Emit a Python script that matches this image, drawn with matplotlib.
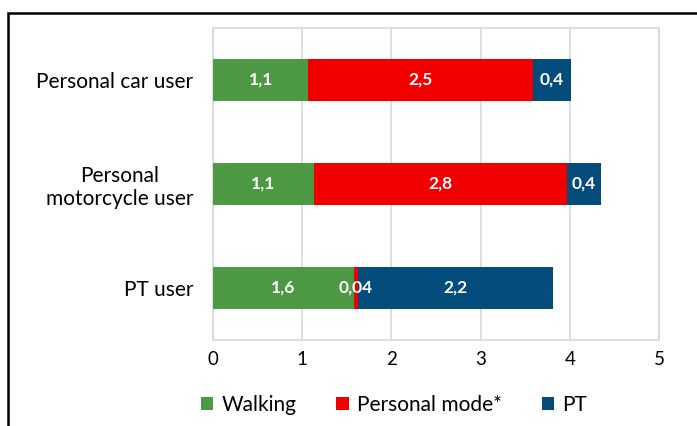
import matplotlib
matplotlib.use("Agg")
import matplotlib.pyplot as plt
from matplotlib.patches import Rectangle
import numpy as np

categories = ["Personal car user", "Personal\nmotorcycle user", "PT user"]
series_names = ["Walking", "Personal mode*", "PT"]
walking = [1.07, 1.13, 1.58]
personal = [2.52, 2.84, 0.04]
pt = [0.42, 0.38, 2.19]
labels_walking = ["1,1", "1,1", "1,6"]
labels_personal = ["2,5", "2,8", "0,04"]
labels_pt = ["0,4", "0,4", "2,2"]
colors = ["#4C9843", "#F20000", "#034C7C"]
xticks = [0, 1, 2, 3, 4, 5]

plt.rcParams['font.family'] = ['Lato', 'DejaVu Sans']

fig = plt.figure(figsize=(6.97, 4.26), dpi=100)
ax = fig.add_axes([213/697, 1 - 340/426, (659-213)/697, (340-28)/426])

y = np.arange(len(categories))[::-1].astype(float)
left = np.zeros(len(categories))
all_vals = [walking, personal, pt]
all_labels = [labels_walking, labels_personal, labels_pt]
for vals, labs, col, name in zip(all_vals, all_labels, colors, series_names):
    bars = ax.barh(y, vals, left=left, height=0.405, color=col, label=name, zorder=3)
    for b, lab in zip(bars, labs):
        cx = b.get_x() + b.get_width() / 2
        cy = b.get_y() + b.get_height() / 2
        ax.text(cx, cy, lab, ha='center', va='center', color='white',
                fontsize=12.5, fontweight='bold', zorder=4)
    left = left + np.array(vals)

ax.set_xlim(0, 5)
ax.set_ylim(-0.5, 2.5)
ax.set_xticks(xticks)
ax.set_xticklabels([str(t) for t in xticks], fontsize=13.5)
ax.set_yticks(y)
ax.set_yticklabels(categories, fontsize=15)
for lbl in ax.get_yticklabels():
    lbl.set_multialignment('center')
ax.tick_params(axis='y', length=0, pad=14)
ax.tick_params(axis='x', length=0, pad=8)
ax.grid(axis='x', color='#D9D9D9', linewidth=1.2, zorder=0)
for s in ax.spines.values():
    s.set_color('#D9D9D9')
    s.set_linewidth(1.2)

leg = fig.legend(loc='center', bbox_to_anchor=(394/697, 1 - 405/426), ncol=3,
                 frameon=False, fontsize=15, handlelength=0.6, handleheight=0.6,
                 handletextpad=0.4, columnspacing=1.9)

fig.patches.append(Rectangle((8/697, -0.1), 1.2, 1 - 13/426 + 0.1, transform=fig.transFigure,
                             fill=False, edgecolor='black', linewidth=1.8))

fig.savefig("out.png", dpi=100)
